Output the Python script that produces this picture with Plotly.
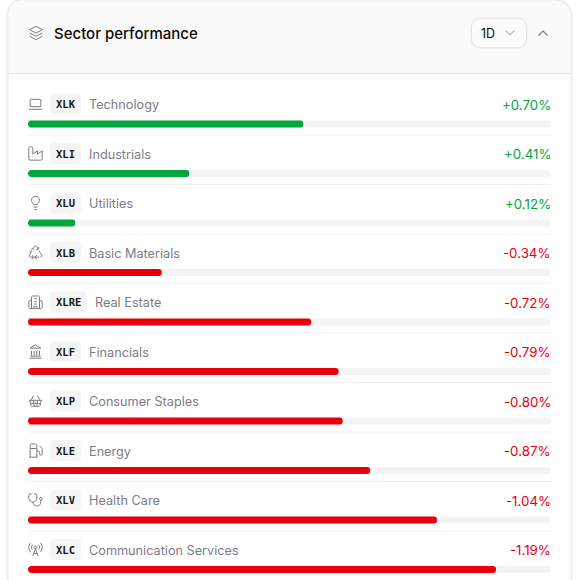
import re
import plotly.graph_objects as go

W, H = 576, 580

# data
tickers = ['XLK', 'XLI', 'XLU', 'XLB', 'XLRE', 'XLF', 'XLP', 'XLE', 'XLV', 'XLC']
sectors = ['Technology', 'Industrials', 'Utilities', 'Basic Materials', 'Real Estate',
           'Financials', 'Consumer Staples', 'Energy', 'Health Care', 'Communication Services']
changes = [0.70, 0.41, 0.12, -0.34, -0.72, -0.79, -0.80, -0.87, -1.04, -1.19]
scale_max = 1.33

GREEN = '#00a63e'
RED = '#e7000b'
TRACK = '#f4f4f5'
GREY = '#7b7b83'
FONT = 'Inter, Noto Sans, sans-serif'

# row geometry in page pixels
ROW0_TEXT = 104.5
ROW0_BAR = 124
PITCH = 49.5
BAR_PX = 7


def circle(cx, cy, r):
    k = r * 0.5523
    return (f'M{cx - r} {cy} C{cx - r} {cy - k} {cx - k} {cy - r} {cx} {cy - r} '
            f'C{cx + k} {cy - r} {cx + r} {cy - k} {cx + r} {cy} '
            f'C{cx + r} {cy + k} {cx + k} {cy + r} {cx} {cy + r} '
            f'C{cx - k} {cy + r} {cx - r} {cy + k} {cx - r} {cy} Z')


# 24x24 line icons, absolute coordinates only
ICONS = {
    'layers': 'M12 2 L2.5 7 L12 12 L21.5 7 Z M2.5 12 L12 17 L21.5 12 M2.5 17 L12 22 L21.5 17',
    'XLK': 'M5 5 L19 5 C19.6 5 20 5.4 20 6 L20 16 L4 16 L4 6 C4 5.4 4.4 5 5 5 Z M2 20 L22 20',
    'XLI': 'M2 4 C2 3 3 2 4 2 L6 2 C7 2 8 3 8 4 L8 13 L15 8 L15 13 L22 8 L22 20 C22 21 21 22 20 22 '
           'L4 22 C3 22 2 21 2 20 Z M12 17 L12.5 17 M8 17 L8.5 17 M16 17 L16.5 17',
    'XLU': 'M15 14 C15.2 13 15.7 12.3 16.5 11.5 C17.5 10.5 18 9.3 18 8 C18 4.7 15.3 2 12 2 '
           'C8.7 2 6 4.7 6 8 C6 9 6.2 10.2 7.5 11.5 C8.2 12.2 8.8 13 9 14 Z M9 18 L15 18 M10 22 L14 22',
    'XLB': 'M7 19 L4.5 19 C3 19 2 17.5 2.8 16 L5 12.2 M11 19 L8 19 M8 16 L8 22 M11 19 L17 19 '
           'M14 16 L11 19 L14 22 M19.5 19 C21 19 22 17.5 21.2 16 L19.5 13 M16 7 L13.8 3 C13 1.7 11 1.7 10.2 3 '
           'L8.5 6 M10.5 8 L8.5 6 L5.5 6.8 M13 7.5 L16 7 L17 4 M19 12.5 L17.5 9.5 M5 12 L2.5 11 M5 12 L6.5 9',
    'XLRE': 'M6 22 L6 5 C6 3.5 7 3 8 3 L16 3 C17 3 18 3.5 18 5 L18 22 Z M6 10 L3.5 10 C2.5 10 2 10.5 2 11.5 L2 20 '
            'C2 21.2 2.8 22 4 22 L6 22 M18 10 L20.5 10 C21.5 10 22 10.5 22 11.5 L22 20 C22 21.2 21.2 22 20 22 L18 22 '
            'M10 7 L14 7 M10 11 L14 11 M10 15 L14 15 M10 22 L10 18.5 L14 18.5 L14 22',
    'XLF': 'M3 22 L21 22 M6 18 L6 11 M10 18 L10 11 M14 18 L14 11 M18 18 L18 11 M12 2 L20 7 L4 7 Z M4 19 L20 19',
    'XLP': 'M15 11 L14 20 M19 11 L15 4 M2 11 L22 11 M3.5 11 L5.1 18.4 C5.3 19.4 6.1 20 7.1 20 L16.9 20 '
           'C17.9 20 18.7 19.4 18.9 18.4 L20.6 11 M4.5 15.5 L19.5 15.5 M5 11 L9 4 M9 11 L10 20',
    'XLE': 'M3 22 L15 22 M4 9 L14 9 M14 22 L14 4 C14 2.9 13.1 2 12 2 L6 2 C4.9 2 4 2.9 4 4 L4 22 '
           'M14 13 L16 13 C17.1 13 18 13.9 18 15 L18 17 C18 19.7 22 19.7 22 17 L22 9.8 C22 9.3 21.8 8.8 21.4 8.4 L18 5',
    'XLV': 'M11 2 L11 4 M5 2 L5 4 M5 3 L4 3 C2.9 3 2 3.9 2 5 L2 9 C2 17 14 17 14 9 L14 5 C14 3.9 13.1 3 12 3 L11 3 '
           'M8 15 C8 23 20 23 20 15 L20 12 ' + circle(20, 10, 2),
    'XLC': 'M4.9 16.1 C1 12.2 1 5.8 4.9 1.9 M7.8 4.7 C5.8 6.7 5.5 9.9 7 12.2 M16.2 4.8 C18.2 6.8 18.5 9.9 17 12.3 '
           'M19.1 1.9 C23 5.8 23 12.2 19.1 16 M9.5 18 L14.5 18 M8 22 L12 11 L16 22 ' + circle(12, 9, 2),
}


def xp(x):
    return x / W


def yp(y):
    return 1 - y / H


def to_paper(path):
    # pixel path to paper coordinates
    nums = re.compile(r'(-?\d+\.?\d*) (-?\d+\.?\d*)')
    return nums.sub(lambda m: f'{xp(float(m[1])):.5f} {yp(float(m[2])):.5f}', path)


def icon_path(name, x0, y0, size=16):
    k = size / 24
    nums = re.compile(r'(-?\d+\.?\d*) (-?\d+\.?\d*)')
    scaled = nums.sub(lambda m: f'{x0 + float(m[1]) * k:.3f} {y0 + float(m[2]) * k:.3f}', ICONS[name])
    return to_paper(scaled)


def round_rect(x0, y0, x1, y1, r):
    k = r * 0.45
    return to_paper(
        f'M{x0 + r} {y0} L{x1 - r} {y0} C{x1 - k} {y0} {x1} {y0 + k} {x1} {y0 + r} '
        f'L{x1} {y1 - r} C{x1} {y1 - k} {x1 - k} {y1} {x1 - r} {y1} '
        f'L{x0 + r} {y1} C{x0 + k} {y1} {x0} {y1 - k} {x0} {y1 - r} '
        f'L{x0} {y0 + r} C{x0} {y0 + k} {x0 + k} {y0} {x0 + r} {y0} Z'
    )


def shape(path, fill='rgba(0,0,0,0)', line='rgba(0,0,0,0)', width=1, layer='below'):
    return dict(type='path', xref='paper', yref='paper', path=path, fillcolor=fill,
                line=dict(color=line, width=width), layer=layer)


def label(text, x, y, size=13, color='#7d7d85', anchor='left', family=FONT, weight=400):
    return dict(xref='paper', yref='paper', x=xp(x), y=yp(y), text=text, showarrow=False,
                xanchor=anchor, yanchor='middle', borderpad=0,
                font=dict(size=size, color=color, family=family, weight=weight))


shapes = []
annotations = []

# card
card = 'M8 600 L8 15 C8 6 14 0 23 0 L555 0 C564 0 571 6 571 15 L571 600 Z'
shapes.append(shape(to_paper(card), line='rgba(0,0,0,0.035)', width=4))
shapes.append(shape(to_paper(card), fill='white', line='#e7e7e7', width=1))
header = 'M8.5 73 L8.5 15 C8.5 6 14 0.5 23 0.5 L555 0.5 C564 0.5 570.5 6 570.5 15 L570.5 73 Z'
shapes.append(shape(to_paper(header), fill='#fafafa'))
shapes.append(shape(to_paper('M8 73.5 L571 73.5'), line='#e5e5e5', width=1))

# header contents
shapes.append(shape(icon_path('layers', 28, 25), line=GREY, width=1))
annotations.append(label('Sector performance', 52.5, 33.5, size=15, color='#0a0a0a', weight=500))
shapes.append(shape(round_rect(471.5, 18.5, 526.5, 47.5, 9), line='rgba(0,0,0,0.03)', width=3))
shapes.append(shape(round_rect(471.5, 18.5, 526.5, 47.5, 9), fill='#fcfcfc', line='#e8e8e8', width=1))
annotations.append(label('1D', 479.5, 33.5, size=12.5, color='#0a0a0a'))
shapes.append(shape(to_paper('M505.5 30.5 L510 35 L514.5 30.5'), line='#b8b8bc', width=1.2))
shapes.append(shape(to_paper('M538.5 35.5 L543 31 L547.5 35.5'), line=GREY, width=1.2))

# rows
for i, (tk, name, chg) in enumerate(zip(tickers, sectors, changes)):
    ty = ROW0_TEXT + i * PITCH
    by = ROW0_BAR + i * PITCH
    badge_end = 50 + 13 + 6 * len(tk)
    shapes.append(shape(icon_path(tk, 27.5, ty - 8.5), line=GREY, width=1))
    shapes.append(shape(round_rect(50, ty - 11, badge_end, ty + 10, 4), fill='#f5f5f5'))
    annotations.append(label(tk, (50 + badge_end) / 2, ty - 0.2, size=10.5, color='#171717', anchor='center',
                             family='DejaVu Sans Mono, monospace', weight=700))
    annotations.append(label(name, badge_end + 7, ty + 0.3, size=12.7))
    annotations.append(label(f'{chg:+.2f}%', 551.5, ty + 0.3, size=13.3, anchor='right',
                             color=GREEN if chg > 0 else RED))
    # track behind the bar, left end of the bar trimmed with a white corner
    shapes.append(shape(round_rect(28, by - BAR_PX / 2, 551, by + BAR_PX / 2, 3.5), fill=TRACK))
    y0, y1 = by - BAR_PX / 2, by + BAR_PX / 2
    shapes.append(shape(to_paper(f'M27.5 {y0} L31.5 {y0} C29.5 {y0} 28 {y0 + 1.5} 28 {by} '
                                 f'C28 {y1 - 1.5} 29.5 {y1} 31.5 {y1} L27.5 {y1} Z'),
                        fill='white', layer='above'))
    if i < len(tickers) - 1:
        sy = ty + 30.5
        shapes.append(shape(to_paper(f'M28 {sy} L551 {sy}'), line='#f0f0f0', width=1))

magnitudes = [abs(c) for c in changes]
colors = [GREEN if c > 0 else RED for c in changes]

fig = go.Figure()
fig.add_trace(go.Bar(y=tickers, x=magnitudes, orientation='h', width=BAR_PX / PITCH,
                     marker=dict(color=colors, line_width=0, cornerradius=3)))

fig.update_layout(
    width=W, height=H,
    margin=dict(l=0, r=0, t=0, b=0),
    paper_bgcolor='white', plot_bgcolor='rgba(0,0,0,0)',
    showlegend=False,
    shapes=shapes, annotations=annotations,
    xaxis=dict(domain=[28 / W, 551 / W], range=[0, scale_max], visible=False, fixedrange=True),
    yaxis=dict(type='category', categoryorder='array', categoryarray=tickers,
               range=[(H - ROW0_BAR) / PITCH, -ROW0_BAR / PITCH], visible=False, fixedrange=True),
)

fig.write_html('out.html', config=dict(displayModeBar=False),
               post_script="document.body.style.margin='0';")
